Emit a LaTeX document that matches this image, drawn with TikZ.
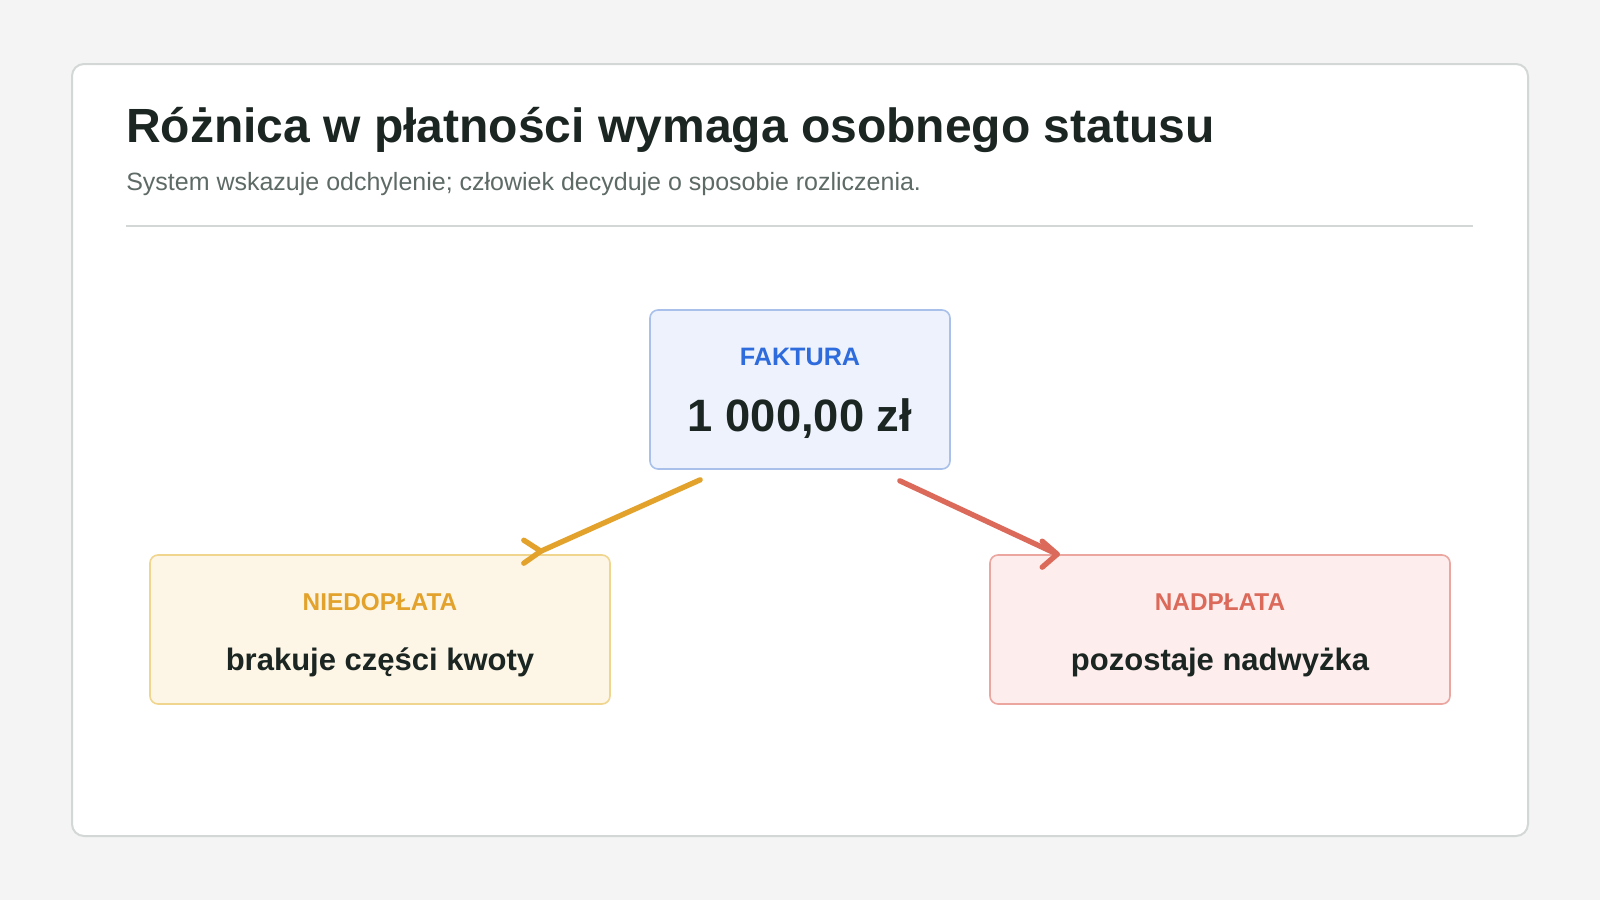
\documentclass[tikz,border=0pt]{standalone}
\usepackage{fontspec}
\setmainfont{Liberation Sans}
\usetikzlibrary{calc}
\definecolor{pagebg}{HTML}{F3F4F3}
\definecolor{cardline}{HTML}{D3D8D6}
\definecolor{ink}{HTML}{1B2521}
\definecolor{muted}{HTML}{5E6A65}
\definecolor{fakfill}{HTML}{EDF2FD}
\definecolor{fakline}{HTML}{A9C1EA}
\definecolor{fakblue}{HTML}{2E6BDC}
\definecolor{niefill}{HTML}{FDF6E6}
\definecolor{nieline}{HTML}{F0D58E}
\definecolor{amber}{HTML}{E2A22B}
\definecolor{nadfill}{HTML}{FDEEED}
\definecolor{nadline}{HTML}{EBA6A0}
\definecolor{coral}{HTML}{DC6A5B}
\begin{document}
\begin{tikzpicture}[x=0.75pt,y=-0.75pt,
  box/.style={draw,rounded corners=6pt,line width=1.2pt,inner sep=0pt},
  tag/.style={anchor=base,font=\bfseries\fontsize{18.25}{21}\selectfont},
  val/.style={anchor=base,font=\bfseries\fontsize{23.25}{27}\selectfont,text=ink},
  link/.style={line width=4pt,line cap=round,line join=round}]
    \useasboundingbox[fill=pagebg] (0,0) rectangle (1600,900);
    \draw[fill=white,draw=cardline,line width=1.5pt,rounded corners=9pt] (72,64) rectangle (1528,836);
    % heading
    \node[anchor=base west,font=\bfseries\fontsize{36}{41}\selectfont,text=ink,inner sep=0pt] (title) at (126,142) {Różnica w płatności wymaga osobnego statusu};
    \node[anchor=base west,font=\fontsize{18.75}{22}\selectfont,text=muted,inner sep=0pt] (sub) at (126,190) {System wskazuje odchylenie; człowiek decyduje o sposobie rozliczenia.};
    \draw[cardline,line width=1.5pt] (126,225.5) -- (1473,225.5);
    % boxes
    \node[box,fill=fakfill,draw=fakline,minimum width=225pt,minimum height=119.25pt] (fak) at (800,389.5) {};
    \node[box,fill=niefill,draw=nieline,minimum width=345pt,minimum height=111.75pt] (nie) at (380,629.5) {};
    \node[box,fill=nadfill,draw=nadline,minimum width=345pt,minimum height=111.75pt] (nad) at (1220,629.5) {};
    \node[tag,text=fakblue,font=\bfseries\fontsize{18.9}{22}\selectfont] (fakTag) at (800,365) {FAKTURA};
    \node[anchor=base,font=\bfseries\fontsize{34}{39}\selectfont,text=ink] (fakVal) at (800,431) {1 000,00 zł};
    \node[tag,text=amber] (nieTag) at (380,610) {NIEDOPŁATA};
    \node[val] (nieVal) at (380,670) {brakuje części kwoty};
    \node[tag,text=coral] (nadTag) at (1220,610) {NADPŁATA};
    \node[val] (nadVal) at (1220,670) {pozostaje nadwyżka};
    % links
    \coordinate (o1) at ($(fak.south west)+(51,10)$);
    \coordinate (o2) at ($(nie.north east)+(-70,-3)$);
    \coordinate (r1) at ($(fak.south east)+(-51,11)$);
    \coordinate (r2) at ($(nad.north west)+(68,0)$);
    \draw[link,draw=amber] (o1) -- (o2);
    \draw[link,draw=amber] (o2) ++(-17,-11) -- (o2) -- ++(-17,12);
    \draw[link,draw=coral] (r1) -- (r2);
    \draw[link,draw=coral] (r2) ++(-15,-13) -- (r2) -- ++(-15,13);
\end{tikzpicture}
\end{document}
